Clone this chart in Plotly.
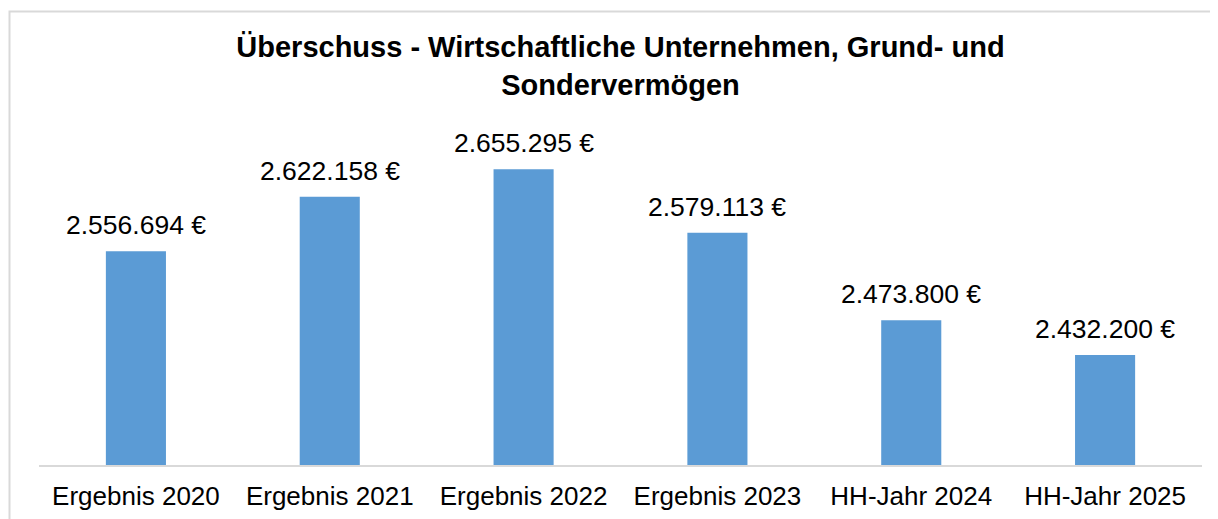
import plotly.graph_objects as go

categories = ["Ergebnis 2020", "Ergebnis 2021", "Ergebnis 2022", "Ergebnis 2023", "HH-Jahr 2024", "HH-Jahr 2025"]
values = [2556694, 2622158, 2655295, 2579113, 2473800, 2432200]
labels = ["2.556.694 €", "2.622.158 €", "2.655.295 €", "2.579.113 €", "2.473.800 €", "2.432.200 €"]
title_text = "<b>Überschuss - Wirtschaftliche Unternehmen, Grund- und<br>Sondervermögen</b>"

W, H = 1218, 519
OFF = 8  # default page body margin
ml, mt = 39 - OFF, 132 - OFF
pw, ph = 1163, 333
mr = W - ml - pw
mb = H - mt - ph

fig = go.Figure()
fig.add_trace(go.Bar(
    x=categories, y=values,
    marker=dict(color="#5b9bd5", line=dict(width=0)),
    hoverinfo="skip",
))

for c, v, t in zip(categories, values, labels):
    fig.add_annotation(x=c, y=v, text=t, showarrow=False, yanchor="bottom",
                       yshift=9, font=dict(family="Liberation Sans, Arial", size=26.5, color="#000000"))

# chart border
fig.add_shape(type="rect", xref="paper", yref="paper",
              x0=(9.5 - OFF - ml) / pw, x1=1.05,
              y0=-0.3, y1=1 + (mt - (11.5 - OFF)) / ph,
              line=dict(color="#d9d9d9", width=2), fillcolor="rgba(0,0,0,0)", layer="below")

fig.update_layout(
    width=W, height=H,
    margin=dict(l=ml, r=mr, t=mt, b=mb),
    paper_bgcolor="white", plot_bgcolor="white",
    bargap=0.69,
    showlegend=False,
    title=dict(text=title_text, x=0.5, xref="paper", xanchor="center",
               y=1 - 49 / H, yref="container", yanchor="middle",
               font=dict(family="Liberation Sans, Arial", size=29, color="#000000")),
    font=dict(family="Liberation Sans, Arial", color="#000000"),
    xaxis=dict(showline=True, linecolor="#d9d9d9", linewidth=2, ticks="",
               ticklabelstandoff=7,
               tickfont=dict(size=26, color="#000000"), showgrid=False),
    yaxis=dict(range=[2300000, 2700000], visible=False, showgrid=False, zeroline=False),
)

fig.write_html("out.html")
